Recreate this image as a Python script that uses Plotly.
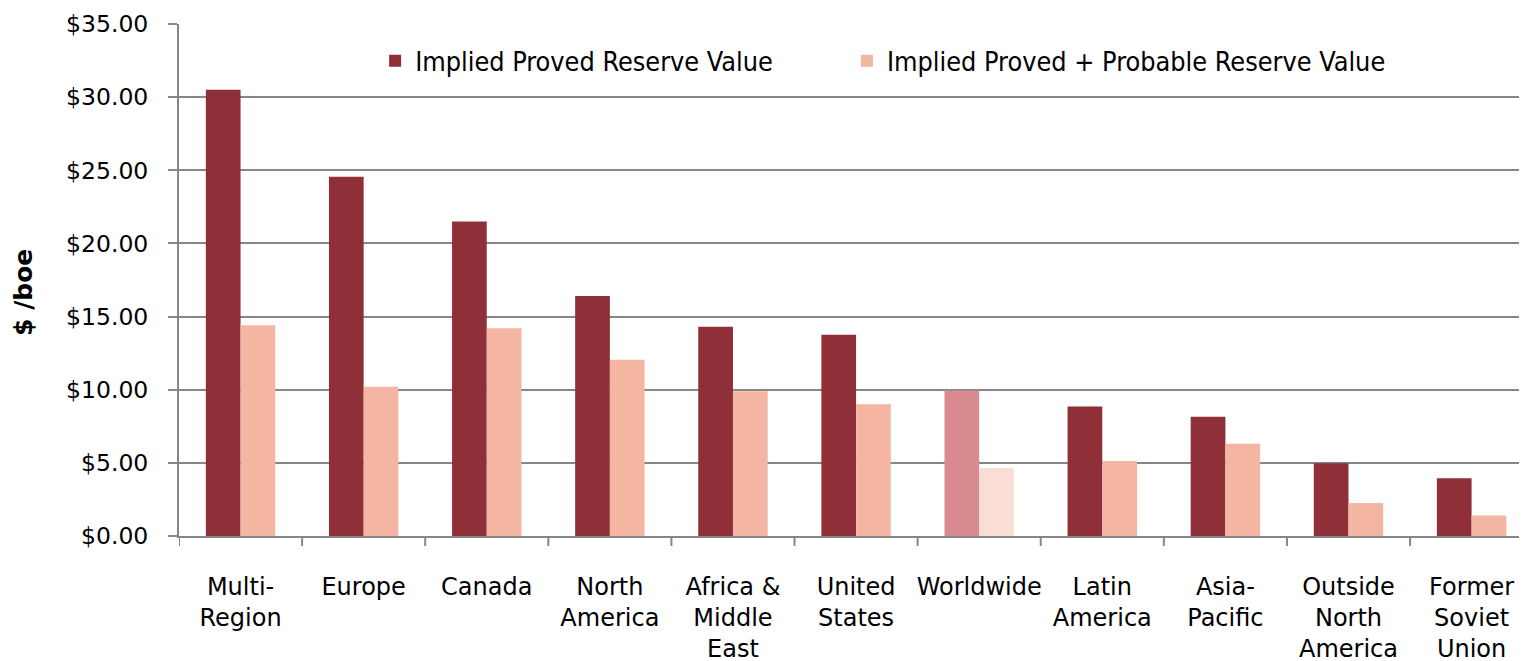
import plotly.graph_objects as go

categories = ["Multi-<br>Region", "Europe", "Canada", "North<br>America", "Africa &amp;<br>Middle<br>East",
              "United<br>States", "Worldwide", "Latin<br>America", "Asia-<br>Pacific",
              "Outside<br>North<br>America", "Former<br>Soviet<br>Union"]
proved = [30.5, 24.55, 21.5, 16.4, 14.3, 13.75, 9.95, 8.85, 8.15, 4.97, 3.95]
proved_probable = [14.4, 10.2, 14.2, 12.05, 9.9, 9.0, 4.65, 5.13, 6.3, 2.26, 1.4]
series_names = ["Implied Proved Reserve Value", "Implied Proved + Probable Reserve Value"]
y_title = "$ /boe"

dark = "#8F2F38"
light = "#F4B5A2"
dark_hl = "#D98B8F"
light_hl = "#FADDD5"

hl = [c == "Worldwide" for c in categories]
x_idx = list(range(len(categories)))

fig = go.Figure()
fig.add_trace(go.Bar(x=x_idx, y=proved, name=series_names[0], legend="legend",
                     marker=dict(color=[dark_hl if h else dark for h in hl], line=dict(width=0))))
fig.add_trace(go.Bar(x=x_idx, y=proved_probable, name=series_names[1], legend="legend2",
                     marker=dict(color=[light_hl if h else light for h in hl], line=dict(width=0))))

font_family = "DejaVu Sans, sans-serif"
legend_font = dict(size=26.8, family="DejaVu Sans Condensed, DejaVu Sans, sans-serif")
# page body has an 8px default margin, so the figure is 8px smaller than the window
fig.update_layout(
    width=1519, height=653,
    margin=dict(l=171, r=0, t=16, b=125),
    paper_bgcolor="white", plot_bgcolor="white",
    barmode="group", bargap=0.436, bargroupgap=0,
    font=dict(family=font_family, size=24, color="black"),
    showlegend=True,
    legend=dict(orientation="h", x=0.1455, y=0.928, xanchor="left", yanchor="middle",
                font=legend_font, bgcolor="rgba(0,0,0,0)"),
    legend2=dict(orientation="h", x=0.4955, y=0.928, xanchor="left", yanchor="middle",
                 font=legend_font, bgcolor="rgba(0,0,0,0)"),
    xaxis=dict(tickmode="array", tickvals=x_idx, ticktext=categories,
               range=[-0.5, 10.45], showgrid=False, zeroline=False, automargin=False,
               showline=True, linecolor="#868686", linewidth=2,
               ticks="", tickfont=dict(size=24), ticklabelstandoff=28),
    yaxis=dict(range=[0, 35], tickvals=[0, 5, 10, 15, 20, 25, 30, 35],
               tickformat="$.2f", showgrid=True, gridcolor="#868686", gridwidth=2,
               showline=True, linecolor="#868686", linewidth=2, zeroline=False,
               automargin=False,
               ticks="outside", ticklen=9, tickcolor="#868686", tickwidth=2,
               tickfont=dict(size=23.5), ticklabelstandoff=15),
    annotations=[dict(text="<b>" + y_title + "</b>", xref="paper", yref="paper",
                      x=-0.115, y=0.4766, xanchor="center", yanchor="middle",
                      textangle=-90, showarrow=False, font=dict(size=25))],
)

# category separator tick marks on the x axis
shapes = []
for i in range(len(categories)):
    shapes.append(dict(type="line", xref="x", yref="paper", x0=i - 0.5, x1=i - 0.5,
                       y0=0, y1=-0.0195, line=dict(color="#868686", width=2)))
fig.update_layout(shapes=shapes)

fig.write_html("out.html")
